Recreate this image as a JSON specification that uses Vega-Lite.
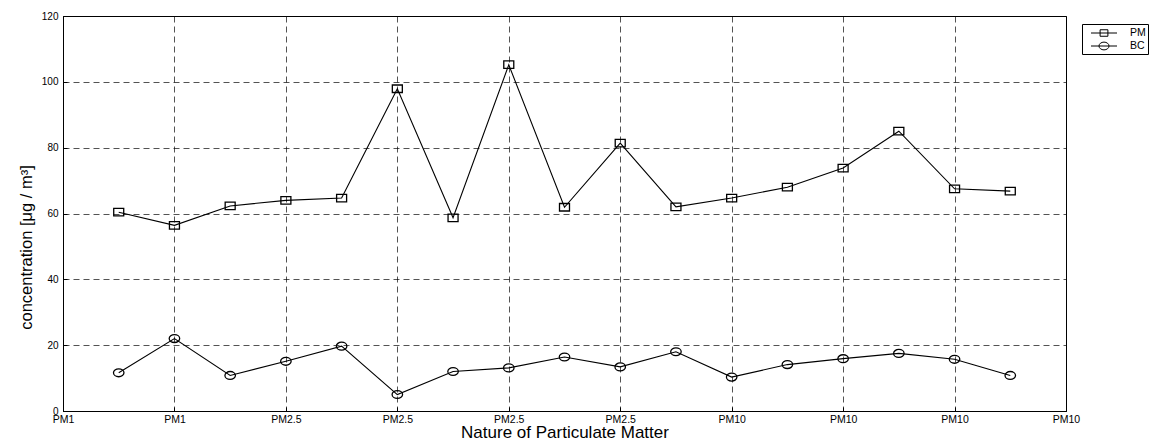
{
  "$schema": "https://vega.github.io/schema/vega-lite/v6.json",
  "width": 1003,
  "height": 395,
  "autosize": {"type": "none"},
  "padding": {"left": 63, "top": 16, "right": 84, "bottom": 29},
  "background": "white",
  "config": {
    "font": "Liberation Sans",
    "view": {"stroke": "black", "strokeWidth": 1},
    "axis": {
      "domainColor": "black",
      "tickColor": "black",
      "labelColor": "black",
      "titleColor": "black",
      "labelFont": "Liberation Sans",
      "titleFont": "Liberation Sans",
      "titleFontWeight": "normal",
      "gridColor": "black",
      "gridDash": [6, 4],
      "gridWidth": 0.8,
      "gridOpacity": 0.85,
      "tickSize": -4
    }
  },
  "data": {
    "values": [
      {"x": 1, "series": "PM", "value": 60.4},
      {"x": 2, "series": "PM", "value": 56.4},
      {"x": 3, "series": "PM", "value": 62.3},
      {"x": 4, "series": "PM", "value": 64.0},
      {"x": 5, "series": "PM", "value": 64.7},
      {"x": 6, "series": "PM", "value": 97.9},
      {"x": 7, "series": "PM", "value": 58.7},
      {"x": 8, "series": "PM", "value": 105.2},
      {"x": 9, "series": "PM", "value": 61.9},
      {"x": 10, "series": "PM", "value": 81.4},
      {"x": 11, "series": "PM", "value": 62.0},
      {"x": 12, "series": "PM", "value": 64.7},
      {"x": 13, "series": "PM", "value": 68.0},
      {"x": 14, "series": "PM", "value": 73.8},
      {"x": 15, "series": "PM", "value": 85.0},
      {"x": 16, "series": "PM", "value": 67.5},
      {"x": 17, "series": "PM", "value": 66.8},
      {"x": 1, "series": "BC", "value": 11.6},
      {"x": 2, "series": "BC", "value": 22.0},
      {"x": 3, "series": "BC", "value": 10.8},
      {"x": 4, "series": "BC", "value": 15.1},
      {"x": 5, "series": "BC", "value": 19.7},
      {"x": 6, "series": "BC", "value": 5.0},
      {"x": 7, "series": "BC", "value": 12.0},
      {"x": 8, "series": "BC", "value": 13.1},
      {"x": 9, "series": "BC", "value": 16.4},
      {"x": 10, "series": "BC", "value": 13.4},
      {"x": 11, "series": "BC", "value": 18.0},
      {"x": 12, "series": "BC", "value": 10.3},
      {"x": 13, "series": "BC", "value": 14.1},
      {"x": 14, "series": "BC", "value": 15.9},
      {"x": 15, "series": "BC", "value": 17.5},
      {"x": 16, "series": "BC", "value": 15.7},
      {"x": 17, "series": "BC", "value": 10.8}
    ]
  },
  "encoding": {
    "x": {
      "field": "x",
      "type": "quantitative",
      "scale": {"domain": [0, 18], "nice": false, "zero": false},
      "axis": {
        "values": [0, 2, 4, 6, 8, 10, 12, 14, 16, 18],
        "labelExpr": "['PM1','PM1','PM2.5','PM2.5','PM2.5','PM2.5','PM10','PM10','PM10','PM10'][round(datum.value/2)]",
        "labelFlush": false,
        "labelOverlap": false,
        "labelFontSize": 10.5,
        "labelPadding": 7,
        "title": "Nature of Particulate Matter",
        "titleFontSize": 17,
        "titleAlign": "center",
        "titleBaseline": "alphabetic",
        "titleX": 501.5,
        "titleY": 26
      }
    },
    "y": {
      "field": "value",
      "type": "quantitative",
      "scale": {"domain": [0, 120], "nice": false},
      "axis": {
        "values": [0, 20, 40, 60, 80, 100, 120],
        "labelFontSize": 10,
        "labelPadding": 9,
        "title": "concentration [μg / m³]",
        "titleFontSize": 16.5,
        "titleAngle": -90,
        "titleAlign": "center",
        "titleBaseline": "alphabetic",
        "titleX": -32,
        "titleY": 231
      }
    }
  },
  "layer": [
    {
      "mark": {"type": "line", "color": "black", "strokeWidth": 1.1},
      "encoding": {"detail": {"field": "series"}}
    },
    {
      "transform": [{"filter": "datum.series === 'PM'"}],
      "mark": {"type": "point", "shape": "M-1,-0.75H1V0.75H-1Z", "size": 100, "filled": false, "stroke": "black", "strokeWidth": 1.3, "opacity": 1}
    },
    {
      "transform": [{"filter": "datum.series === 'BC'"}],
      "mark": {"type": "point", "shape": "M1,0A1,0.75 0 1,1 -1,0A1,0.75 0 1,1 1,0Z", "size": 110, "filled": false, "stroke": "black", "strokeWidth": 1.3, "opacity": 1}
    },
    {
      "transform": [{"filter": "false"}],
      "mark": {"type": "point", "filled": false, "stroke": "black", "opacity": 1},
      "encoding": {
        "shape": {
          "field": "series",
          "type": "nominal",
          "scale": {
            "domain": ["PM", "BC"],
            "range": ["M-2,0H2M-0.6,-0.5H0.6V0.5H-0.6Z", "M-2,0H2M0.77,0A0.77,0.6 0 1,1 -0.77,0A0.77,0.6 0 1,1 0.77,0Z"]
          },
          "legend": {
            "title": null,
            "orient": "none",
            "legendX": 1019,
            "legendY": 8,
            "padding": 2,
            "strokeColor": "black",
            "fillColor": "white",
            "symbolSize": 169,
            "symbolOffset": 13,
            "symbolStrokeColor": "black",
            "symbolFillColor": "transparent",
            "symbolStrokeWidth": 1,
            "symbolOpacity": 1,
            "labelOffset": 19,
            "labelFontSize": 10.5,
            "labelColor": "black",
            "rowPadding": 0
          }
        }
      }
    }
  ]
}
